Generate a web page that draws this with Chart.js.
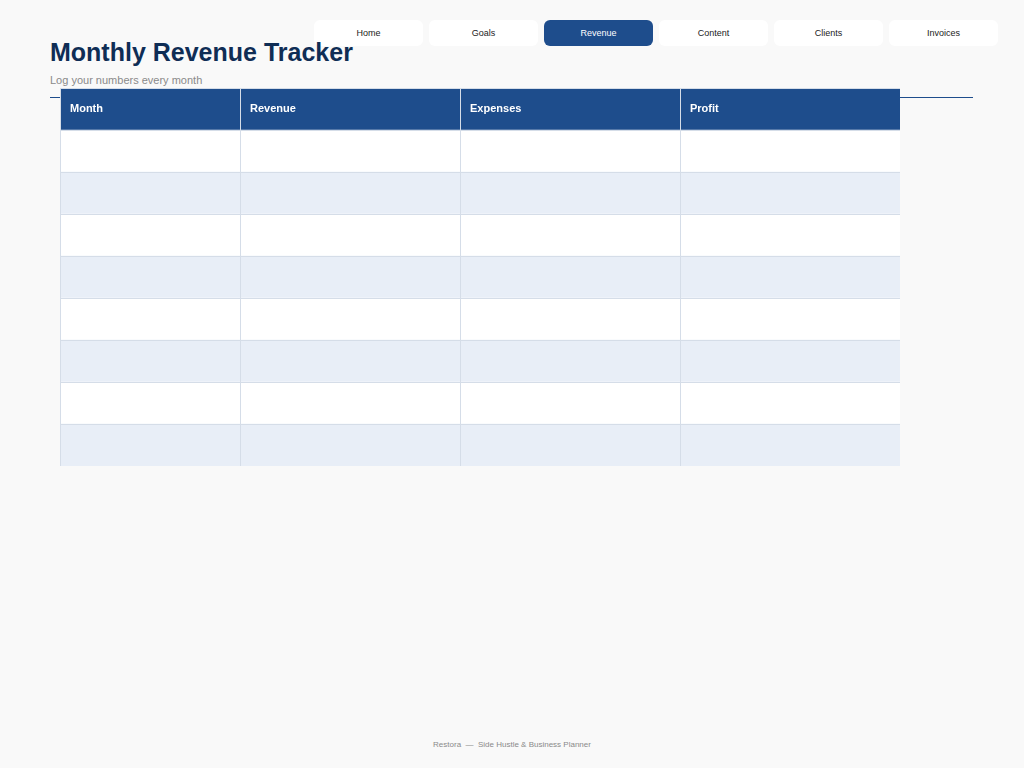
<!DOCTYPE html>
<html lang="en">
<head>
<meta charset="utf-8">
<title>Monthly Revenue Tracker</title>
<script src="https://cdn.jsdelivr.net/npm/chart.js@4"></script>
<style>
  body { margin:0; background:#f9f9f9; font-family:"Liberation Sans", Arial, sans-serif; width:1024px; height:768px; position:relative; overflow:hidden; }
  h1 { position:absolute; left:50px; top:38px; margin:0; font-size:25px; color:#0f2d55; font-weight:bold; }
  .sub { position:absolute; left:50px; top:74px; font-size:11px; color:#8a8a8a; }
  .rule { position:absolute; left:50px; top:97px; width:923px; height:1px; background:#1e4d8c; }
  nav a { position:absolute; top:20px; width:109px; height:26px; line-height:26px; text-align:center; font-size:9px; color:#222; background:#fff; border-radius:6px; text-decoration:none; }
  nav a.on { background:#1e4d8c; color:#fff; }
  #wrap { position:absolute; left:60px; top:88px; width:840px; height:378px; }
  .foot { position:absolute; left:0; width:1024px; top:740px; text-align:center; font-size:8px; color:#8a8a8a; }
</style>
</head>
<body>
  <nav>
    <a style="left:314px">Home</a>
    <a style="left:429px">Goals</a>
    <a class="on" style="left:544px">Revenue</a>
    <a style="left:659px">Content</a>
    <a style="left:774px">Clients</a>
    <a style="left:889px">Invoices</a>
  </nav>
  <h1>Monthly Revenue Tracker</h1>
  <div class="sub">Log your numbers every month</div>
  <div class="rule"></div>
  <div id="wrap"><canvas id="c" width="840" height="378"></canvas></div>
  <div class="foot">Restora &nbsp;—&nbsp; Side Hustle &amp; Business Planner</div>
  <script>
    // table drawn as chart: rows are categories, columns are x ranges
    var headers = ["Month", "Revenue", "Expenses", "Profit"];
    var colEdges = [0, 180, 400, 620, 840];
    var rows = ["head", "r1", "r2", "r3", "r4", "r5", "r6", "r7", "r8"];
    var rowSpans = rows.map(function () { return [0, 840]; });
    var rowColors = rows.map(function (r, i) {
      return i == 0 ? "#1e4d8c" : (i % 2 == 1 ? "#ffffff" : "#e8eef7");
    });

    var headerText = {
      id: "headerText",
      afterDraw: function (chart) {
        var c = chart.ctx, x = chart.scales.x, y = chart.scales.y;
        c.save();
        c.fillStyle = "#ffffff";
        c.font = "bold 11px 'Liberation Sans', Arial, sans-serif";
        c.textBaseline = "middle";
        headers.forEach(function (h, i) {
          c.fillText(h, x.getPixelForValue(colEdges[i]) + 10, y.getPixelForValue(0));
        });
        c.restore();
      }
    };

    new Chart(document.getElementById("c"), {
      type: "bar",
      data: {
        labels: rows,
        datasets: [{ data: rowSpans, backgroundColor: rowColors, barPercentage: 1, categoryPercentage: 1 }]
      },
      options: {
        indexAxis: "y",
        responsive: false,
        animation: false,
        layout: { padding: 0 },
        plugins: { legend: { display: false }, tooltip: { enabled: false } },
        scales: {
          x: {
            min: 0, max: 840,
            afterBuildTicks: function (s) { s.ticks = colEdges.map(function (v) { return { value: v }; }); },
            ticks: { display: false },
            grid: { color: "#d5dde8", drawTicks: false, z: 1 },
            border: { display: false }
          },
          y: {
            ticks: { display: false },
            grid: { color: "#d5dde8", drawTicks: false, offset: true, z: 1 },
            border: { display: false }
          }
        }
      },
      plugins: [headerText]
    });
  </script>
</body>
</html>
